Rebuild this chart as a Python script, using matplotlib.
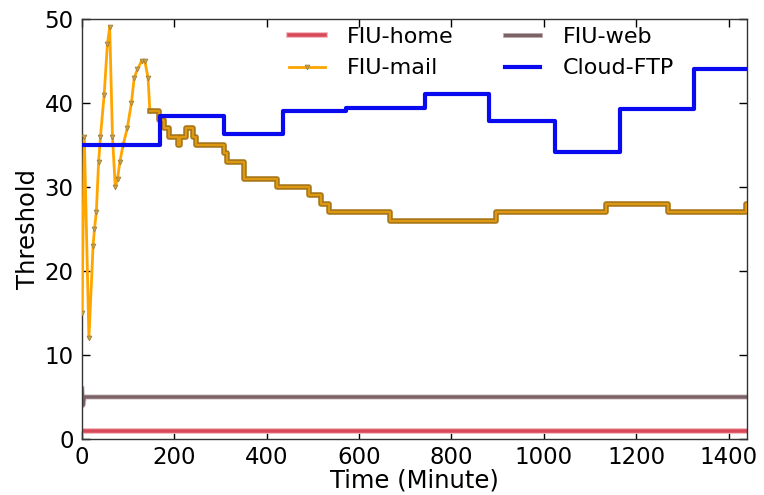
import matplotlib
matplotlib.use("Agg")
import matplotlib.pyplot as plt
import matplotlib.patheffects as pe

# ---- data ----
home_t = [0, 1440]
home_v = [1, 1]

web_t = [0, 2, 5, 1440]
web_v = [6, 4, 5, 5]

# FIU-mail: early oscillating samples (drawn as a line with markers)
mail_early_t = [0, 5, 15, 24, 27, 31, 36, 40, 48, 55, 60, 66, 72, 77, 82, 89, 98,
                107, 113, 120, 129, 136, 143, 147]
mail_early_v = [15, 36, 12, 23, 25, 27, 33, 36, 41, 47, 49, 36, 30, 31, 33, 35, 37,
                40, 43, 44, 45, 45, 43, 39]
# FIU-mail: later part, value changes (step function)
mail_step_t = [147, 166, 177, 188, 208, 213, 225, 240, 247, 307, 314, 350, 423,
               491, 517, 535, 667, 896, 1135, 1269, 1437, 1440]
mail_step_v = [39, 38, 37, 36, 35, 36, 37, 36, 35, 34, 33, 31, 30,
               29, 28, 27, 26, 27, 28, 27, 28, 28]

ftp_t = [0, 168, 307, 436, 572, 743, 882, 1024, 1164, 1325, 1440]
ftp_v = [35, 38.5, 36.3, 39, 39.4, 41.1, 37.8, 34.2, 39.3, 44, 44]

xticks = [0, 200, 400, 600, 800, 1000, 1200, 1400]
yticks = [0, 10, 20, 30, 40, 50]

# ---- figure ----
plt.rcParams['font.family'] = ['DejaVu Sans']
fig = plt.figure(figsize=(7.64, 4.95), dpi=100)
ax = fig.add_axes([82/764, 1-439/495, (747-82)/764, (439-19)/495])

orange = '#ffa500'
ax.plot(home_t, home_v, color='#d84a5a', lw=2.6, label='FIU-home', zorder=2,
        path_effects=[pe.Stroke(linewidth=4.2, foreground='#f2b8bc'), pe.Normal()])
ax.plot(mail_early_t, mail_early_v, color=orange, lw=2, marker='v',
        markersize=3.5, markerfacecolor='#c9a24a', markeredgecolor='#9a7a3a',
        markeredgewidth=0.5, label='FIU-mail', zorder=3)
ax.step(mail_step_t, mail_step_v, where='post', color='#e09a10', lw=1.4, zorder=3,
        path_effects=[pe.Stroke(linewidth=4.0, foreground='#a8781a'), pe.Normal()])
ax.plot(web_t, web_v, color='#7a6266', lw=2.4, label='FIU-web', zorder=2,
        path_effects=[pe.Stroke(linewidth=3.6, foreground='#c9b8ba'), pe.Normal()])
ax.step(ftp_t, ftp_v, where='post', color='#0a0af0', lw=3, label='Cloud-FTP', zorder=4)

ax.set_xlim(0, 1440)
ax.set_ylim(0, 50)
ax.set_xticks(xticks)
ax.set_yticks(yticks)
ax.tick_params(direction='in', top=True, right=True, length=6, width=1,
               labelsize=16.5, colors='black')
ax.tick_params(axis='y', pad=6)
ax.tick_params(axis='x', pad=5)
for s in ax.spines.values():
    s.set_linewidth(1)
    s.set_color('#333333')

ax.set_xlabel('Time (Minute)', fontsize=17.5, labelpad=0)
ax.set_ylabel('Threshold', fontsize=17.5, labelpad=3)

leg = ax.legend(ncol=2, loc='upper center', bbox_to_anchor=(0.601, 1.028),
                frameon=False, fontsize=16, handlelength=1.6, handletextpad=1.0,
                columnspacing=2.3, labelspacing=0.5)

fig.savefig('out.png', dpi=100)
